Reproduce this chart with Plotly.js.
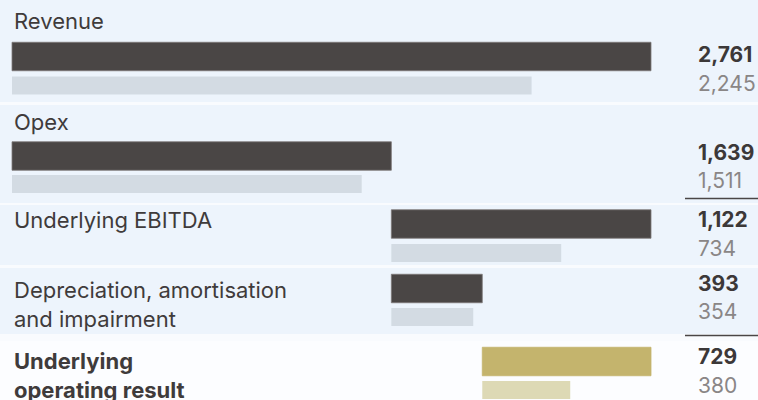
<!DOCTYPE html>
<html>
<head>
<meta charset="utf-8">
<script src="https://cdn.plot.ly/plotly-3.0.1.min.js"></script>
<style>
html,body{margin:0;padding:0;background:#f9fbfe;}
#chart{width:758px;height:400px;}
</style>
</head>
<body>
<div id="chart"></div>
<script>
// ---- data ----
const labels = ['Revenue', 'Opex', 'Underlying EBITDA', 'Depreciation, amortisation<br>and impairment', 'Underlying<br>operating result'];
const current = [2761, 1639, 1122, 393, 729];
const prior = [2245, 1511, 734, 354, 380];
const currentText = ['2,761', '1,639', '1,122', '393', '729'];
const priorText = ['2,245', '1,511', '734', '354', '380'];

// ---- waterfall bases derived from the data ----
// Revenue and Opex start at zero; EBITDA and D&A start where Opex ends;
// the operating result starts where D&A ends.
const bases = [0, 0, current[1], current[1], current[1] + current[3]];

// ---- layout constants (pixel-like y units, axis reversed) ----
const rowTop = [0, 105, 205, 268, 341];
const rowBottom = [102, 203, 265, 334, 400];
const curY = [56.5, 156, 224, 288.5, 361.5];
const priorY = [85.5, 184, 253, 317, 390];
const labelY = [21, 121.5, 220, 304.5, 375.5];
const curValY = [54.5, 152.5, 219.5, 283, 356];
const priorValY = [83, 180, 248, 311, 385];

const darkCol = '#4a4645', lightCol = '#d3dbe3';
const goldCol = '#c4b46d', lightGold = '#ddd9b5';
const curColors = current.map((v, i) => i === 4 ? goldCol : darkCol);
const priorColors = prior.map((v, i) => i === 4 ? lightGold : lightCol);

const traces = [
  {
    type: 'bar', orientation: 'h',
    x: current, base: bases, y: curY, width: 28.5,
    marker: {color: curColors, line: {color: current.map((v,i)=> i===4 ? goldCol : '#7d7979'), width: 0.8}},
    hoverinfo: 'skip', showlegend: false
  },
  {
    type: 'bar', orientation: 'h',
    x: prior, base: bases, y: priorY, width: 18,
    marker: {color: priorColors, line: {width: 0}},
    hoverinfo: 'skip', showlegend: false
  }
];

const shapes = [];
for (let i = 0; i < 5; i++) {
  shapes.push({
    type: 'rect', xref: 'paper', yref: 'y', layer: 'below',
    x0: 0, x1: 1, y0: rowTop[i], y1: rowBottom[i],
    fillcolor: i === 4 ? '#fcfdff' : '#edf4fc', line: {width: 0}
  });
}
// subtraction rules under Opex and D&A values
[198.5, 335.5].forEach(y => shapes.push({
  type: 'line', xref: 'paper', yref: 'y',
  x0: 685 / 758, x1: 1, y0: y, y1: y,
  line: {color: '#4a4646', width: 1.5}
}));

const FONT = 'Inter, "Open Sans", sans-serif';
const annotations = [];
labels.forEach((t, i) => annotations.push({
  text: i === 4 ? '<b>' + t + '</b>' : t,
  xref: 'paper', yref: 'y', x: 12 / 758, y: labelY[i],
  xanchor: 'left', yanchor: 'middle', align: 'left', showarrow: false,
  font: {family: FONT, size: 22, color: '#3f3b3b'}
}));
currentText.forEach((t, i) => annotations.push({
  text: '<b>' + t + '</b>',
  xref: 'paper', yref: 'y', x: 696 / 758, y: curValY[i],
  xanchor: 'left', yanchor: 'middle', showarrow: false,
  font: {family: FONT, size: 21, color: '#3c3838'}
}));
priorText.forEach((t, i) => annotations.push({
  text: t,
  xref: 'paper', yref: 'y', x: 696 / 758, y: priorValY[i],
  xanchor: 'left', yanchor: 'middle', showarrow: false,
  font: {family: FONT, size: 21, color: '#8a8686'}
}));

const scale = 639 / current[0]; // px per unit so revenue ends at x=651
const layout = {
  width: 758, height: 400,
  margin: {l: 0, r: 0, t: 0, b: 0},
  paper_bgcolor: '#f9fbfe', plot_bgcolor: 'rgba(0,0,0,0)',
  barmode: 'overlay',
  xaxis: {range: [-12 / scale, 746 / scale], visible: false, fixedrange: true},
  yaxis: {range: [400, 0], visible: false, fixedrange: true},
  shapes: shapes, annotations: annotations,
  font: {family: FONT}
};

Plotly.newPlot('chart', traces, layout, {displayModeBar: false, staticPlot: true});
</script>
</body>
</html>
